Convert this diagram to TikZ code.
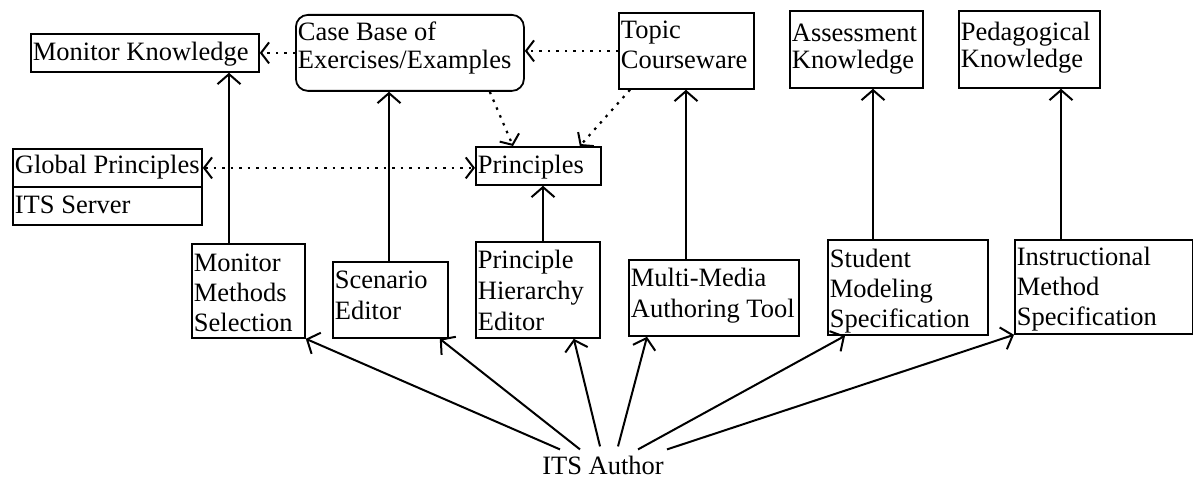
\documentclass[tikz,border=0pt]{standalone}
\usepackage{fontspec}
\setmainfont{Liberation Serif}
\usetikzlibrary{arrows.meta}
\hbadness=10000 \hfuzz=100pt
% width, height, first baseline offset, baselineskip, text
\newcommand\bt[5]{\parbox[c][#2][t]{\dimexpr#1-4pt\relax}{\raggedright\baselineskip=#4\relax\rule{0pt}{#3}#5\par}}
\begin{document}
\begin{tikzpicture}[x=1pt,y=-1pt,
  bx/.style={draw, line width=1.8pt, inner xsep=2pt, inner ysep=0pt, anchor=north west,
    font=\fontsize{26.5}{30}\selectfont},
  rbx/.style={bx, rounded corners=12pt},
  solidarr/.style={line width=2pt, -{Straight Barb[length=10pt,width=23pt,line width=2pt]}},
  dotarr/.style={line width=2.2pt, dash pattern=on 2.5pt off 6pt,
    -{Straight Barb[length=8pt,width=21pt,line width=2pt]}},
  dotboth/.style={line width=2.2pt, dash pattern=on 2.5pt off 6pt,
    {Straight Barb[length=8pt,width=21pt,line width=2pt]}-{Straight Barb[length=8pt,width=21pt,line width=2pt]}},
  lbl/.style={inner sep=0pt, font=\fontsize{26.5}{30}\selectfont}
]
\useasboundingbox (0,0) rectangle (1193,478);

% top row
\node[bx]  (mk) at (30,33)  {\bt{228pt}{38pt}{27pt}{29pt}{Monitor~Knowledge}};
\node[rbx] (cb) at (295,14) {\bt{228pt}{76pt}{26pt}{28pt}{Case~Base~of\\Exercises/Examples}};
\node[bx]  (tc) at (618,12) {\bt{135pt}{76pt}{26pt}{30pt}{Topic\\Courseware}};
\node[bx]  (ak) at (789,10) {\bt{133pt}{77pt}{31pt}{27pt}{Assessment\\Knowledge}};
\node[bx]  (pk) at (958,10) {\bt{141pt}{77pt}{30pt}{27pt}{Pedagogical\\Knowledge}};

% middle
\node[bx] (gp)  at (12,148)  {\bt{189pt}{38pt}{25pt}{30pt}{Global~Principles}};
\node[bx] (its) at (12,186)  {\bt{189pt}{38pt}{27pt}{30pt}{ITS~Server}};
\node[bx] (pr)  at (475,146) {\bt{125pt}{38pt}{27pt}{30pt}{Principles}};

% lower row
\node[bx] (mm) at (191,243)  {\bt{113pt}{94pt}{28pt}{30pt}{Monitor\\Methods\\Selection}};
\node[bx] (se) at (332,261)  {\bt{115pt}{76pt}{27pt}{31pt}{Scenario\\Editor}};
\node[bx] (ph) at (475,241)  {\bt{124pt}{96pt}{27pt}{31pt}{Principle\\Hierarchy\\Editor}};
\node[bx] (mt) at (628,259)  {\bt{170pt}{76pt}{27pt}{31pt}{Multi-Media\\Authoring~Tool}};
\node[bx] (sm) at (827,239)  {\bt{160pt}{95pt}{28pt}{30pt}{Student\\Modeling\\Specification}};
\node[bx] (im) at (1014,239) {\bt{178pt}{94pt}{26pt}{30pt}{Instructional\\Method\\Specification}};

\node[lbl, anchor=base] (author) at (603,474) {ITS Author};

% vertical solid arrows
\draw[solidarr] ([xshift=38pt]mm.north west) -- ([xshift=38pt]mm.north west |- mk.south);
\draw[solidarr] ([xshift=57pt]se.north west) -- ([xshift=57pt]se.north west |- cb.south);
\draw[solidarr] ([xshift=68pt]ph.north west) -- ([xshift=68pt]ph.north west |- pr.south);
\draw[solidarr] ([xshift=58pt]mt.north west) -- ([xshift=58pt]mt.north west |- tc.south);
\draw[solidarr] ([xshift=46pt]sm.north west) -- ([xshift=46pt]sm.north west |- ak.south);
\draw[solidarr] ([xshift=47pt]im.north west) -- ([xshift=47pt]im.north west |- pk.south);

% arrows from ITS Author
\draw[solidarr] ([shift={(-43,-6)}]author.north) -- (mm.south east);
\draw[solidarr] ([shift={(-23,-6)}]author.north) -- ([xshift=-9pt]se.south east);
\draw[solidarr] ([shift={(-3,-9)}]author.north)  -- ([xshift=-27pt]ph.south east);
\draw[solidarr] ([shift={(15,-9)}]author.north)  -- ([xshift=19pt]mt.south west);
\draw[solidarr] ([shift={(35,-6)}]author.north)  -- ([xshift=18pt]sm.south west);
\draw[solidarr] ([shift={(64,-6)}]author.north)  -- (im.south west);

% dotted arrows
\draw[dotarr] (cb.west) -- (cb.west -| mk.east);
\draw[dotarr] (tc.west) -- (tc.west -| cb.east);
\draw[dotarr] ([xshift=-35pt]cb.south east) -- ([xshift=38pt]pr.north west);
\draw[dotarr] ([xshift=12pt]tc.south west) -- ([xshift=-22pt]pr.north east);
\draw[dotboth] (gp.east) -- (gp.east -| pr.west);
\end{tikzpicture}
\end{document}
